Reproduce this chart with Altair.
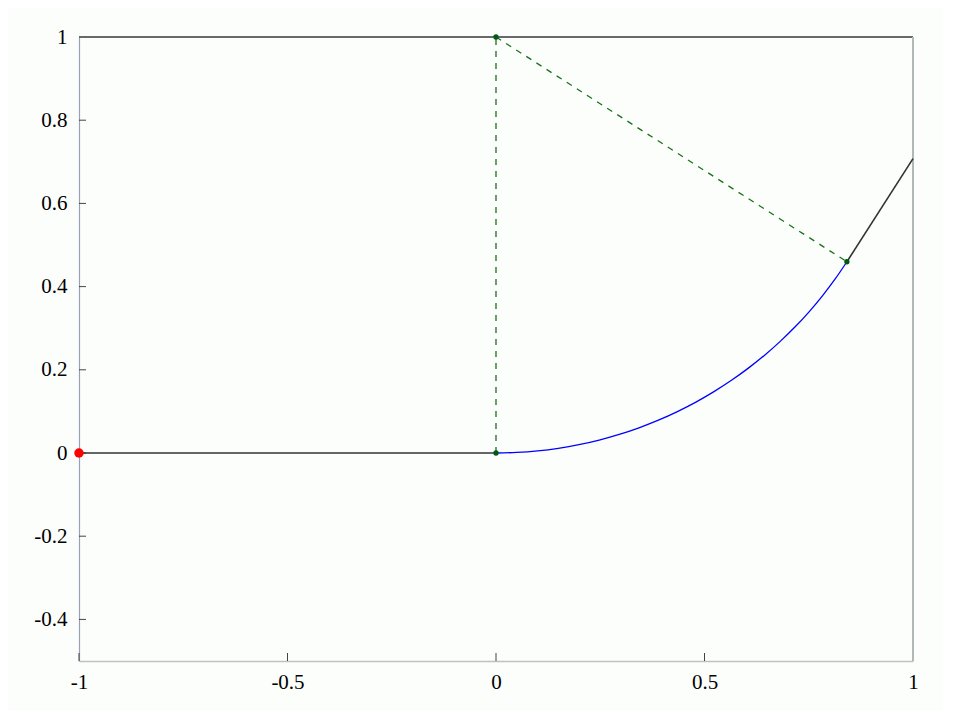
import altair as alt
import pandas as pd

# Arc of the circle centred at (0, 1)
arc_x = [0.0, 0.050, 0.0998, 0.1494, 0.1987, 0.2474, 0.2955, 0.3429, 0.3894, 0.4350,
         0.4794, 0.5227, 0.5646, 0.6052, 0.6442, 0.6816, 0.7174, 0.7513, 0.7833, 0.8134, 0.8415]
arc_y = [0.0, 0.0013, 0.0050, 0.0112, 0.0199, 0.0311, 0.0447, 0.0606, 0.0789, 0.0996,
         0.1224, 0.1475, 0.1747, 0.2040, 0.2352, 0.2683, 0.3033, 0.3400, 0.3784, 0.4183, 0.4597]

# black solid segments
seg_id = ["a", "a", "b", "b"]
seg_x = [-1.0, 0.0, 0.8415, 1.0]
seg_y = [0.0, 0.0, 0.4597, 0.7075]

# green dashed segments
dash_id = ["v", "v", "d", "d"]
dash_x = [0.0, 0.0, 0.0, 0.8415]
dash_y = [0.0, 1.0, 1.0, 0.4597]

# green points
pt_x = [0.0, 0.0, 0.8415]
pt_y = [0.0, 1.0, 0.4597]

# red point
red_x = [-1.0]
red_y = [0.0]

x_ticks = [-1, -0.5, 0, 0.5, 1]
y_ticks = [-0.4, -0.2, 0, 0.2, 0.4, 0.6, 0.8, 1]

W, H = 834, 624
FONT = "Liberation Serif"

xs = alt.Scale(domain=[-1, 1], nice=False, zero=False)
ys = alt.Scale(domain=[-0.5, 1], nice=False, zero=False)

arc = pd.DataFrame({"x": arc_x, "y": arc_y, "o": list(range(len(arc_x)))})
seg = pd.DataFrame({"id": seg_id, "x": seg_x, "y": seg_y, "o": [0, 1, 0, 1]})
dash = pd.DataFrame({"id": dash_id, "x": dash_x, "y": dash_y, "o": [0, 1, 0, 1]})
pts = pd.DataFrame({"x": pt_x, "y": pt_y})
red = pd.DataFrame({"x": red_x, "y": red_y})
xt = pd.DataFrame({"v": x_ticks})
yt = pd.DataFrame({"v": y_ticks})

x_axis = alt.Axis(values=x_ticks, labelExpr="'' + datum.value",
                  title=None, grid=False, ticks=False, domainColor="#c0c0c0", domainWidth=1.5,
                  labelPadding=10, labelFlush=False)
y_axis = alt.Axis(values=y_ticks, labelExpr="'' + datum.value",
                  title=None, grid=False, ticks=False, domainColor="#9aa0b8", domainWidth=1.2,
                  labelPadding=12, labelFlush=False)

base_x = alt.X("x:Q", scale=xs, axis=x_axis)
base_y = alt.Y("y:Q", scale=ys, axis=y_axis)

blue = alt.Chart(arc).mark_line(color="#0000ff", strokeWidth=1.3, interpolate="monotone").encode(
    x=base_x, y=base_y, order="o:Q")
black = alt.Chart(seg).mark_line(color="#333333", strokeWidth=1.6).encode(
    x="x:Q", y="y:Q", detail="id:N", order="o:Q")
dashed = alt.Chart(dash).mark_line(color="#1a701a", strokeWidth=1.3, strokeDash=[6, 6]).encode(
    x="x:Q", y="y:Q", detail="id:N", order="o:Q")
green = alt.Chart(pts).mark_circle(color="#005a10", opacity=1, size=28).encode(x="x:Q", y="y:Q")
redpt = alt.Chart(red).mark_circle(color="#ff0000", opacity=1, size=90).encode(x="x:Q", y="y:Q")

xtick = alt.Chart(xt).mark_rule(color="#444444", strokeWidth=1).encode(
    x=alt.X("v:Q", scale=xs), y=alt.value(H), y2=alt.value(H - 8))
ytick = alt.Chart(yt).mark_rule(color="#444444", strokeWidth=1).encode(
    y=alt.Y("v:Q", scale=ys), x=alt.value(0), x2=alt.value(7))

top = alt.Chart(xt).mark_rule(color="#6a6a6a", strokeWidth=1.5).encode(
    x=alt.value(0), x2=alt.value(W), y=alt.value(0))
right = alt.Chart(xt).mark_rule(color="#b0b8b8", strokeWidth=1.5).encode(
    x=alt.value(W), y=alt.value(0), y2=alt.value(H))

chart = alt.layer(blue, xtick, ytick, top, right, dashed, black, green, redpt).properties(
    width=W, height=H, background="#fcfefc",
    padding={"left": 71, "top": 29, "right": 30, "bottom": 50},
    autosize=alt.AutoSizeParams(type="none"),
).configure_view(stroke=None).configure_axis(
    labelFont=FONT, labelFontSize=21, labelColor="#000000"
)

chart.save("out.html", embed_options={"renderer": "svg", "actions": False})
